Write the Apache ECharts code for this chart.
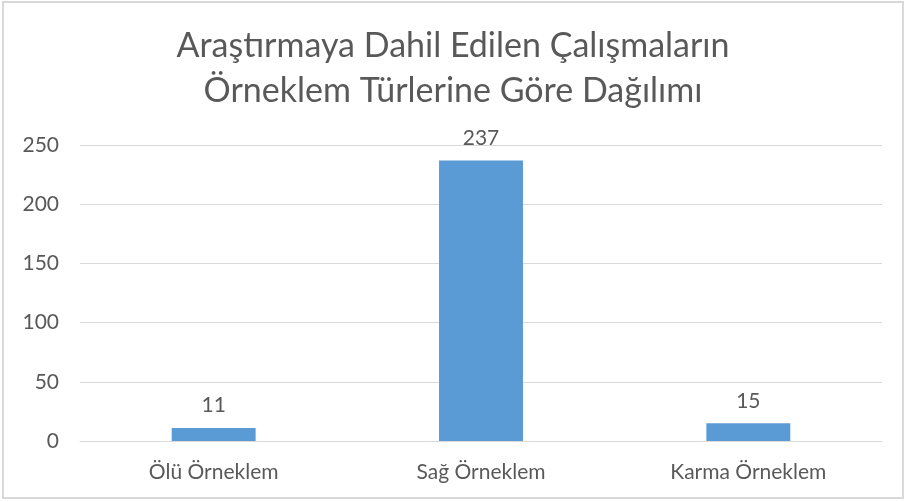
<!DOCTYPE html>
<html>
<head>
<meta charset="utf-8">
<script src="https://cdn.jsdelivr.net/npm/echarts@6/dist/echarts.min.js"></script>
<style>
  html, body { margin: 0; padding: 0; background: #fff; }
  #main { position: absolute; left: 2px; top: 1px; width: 902px; height: 498px; border: 2px solid #d9d9d9; box-sizing: border-box; }
</style>
</head>
<body>
<div id="main"></div>
<script>
var categories = ['Ölü Örneklem', 'Sağ Örneklem', 'Karma Örneklem'];
var counts = [11, 237, 15];
var titleText = 'Araştırmaya Dahil Edilen Çalışmaların\nÖrneklem Türlerine Göre Dağılımı';

var textColor = '#595959';
var fontFam = 'Lato, "Open Sans", sans-serif';

var chart = echarts.init(document.getElementById('main'));
chart.setOption({
    animation: false,
    title: {
        text: titleText,
        left: 'center',
        top: 16,
        textStyle: {
            fontFamily: fontFam,
            fontSize: 34,
            fontWeight: 'normal',
            color: textColor,
            lineHeight: 45
        }
    },
    grid: {
        left: 76,
        right: 20,
        top: 142,
        bottom: 56
    },
    xAxis: {
        type: 'category',
        data: categories,
        axisLine: { lineStyle: { color: '#d9d9d9', width: 1 } },
        axisTick: { show: false },
        axisLabel: {
            color: textColor,
            fontFamily: fontFam,
            fontSize: 21,
            margin: 21
        }
    },
    yAxis: {
        type: 'value',
        min: 0,
        max: 250,
        interval: 50,
        axisLine: { show: false },
        axisTick: { show: false },
        splitLine: { lineStyle: { color: '#d9d9d9', width: 1 } },
        axisLabel: {
            color: textColor,
            fontFamily: fontFam,
            fontSize: 21,
            margin: 21
        }
    },
    series: [{
        type: 'bar',
        data: counts,
        barWidth: '31.4%',
        itemStyle: { color: '#5b9bd5' },
        label: {
            show: true,
            position: 'top',
            distance: 12,
            color: textColor,
            fontFamily: fontFam,
            fontSize: 21
        }
    }]
});
</script>
</body>
</html>
